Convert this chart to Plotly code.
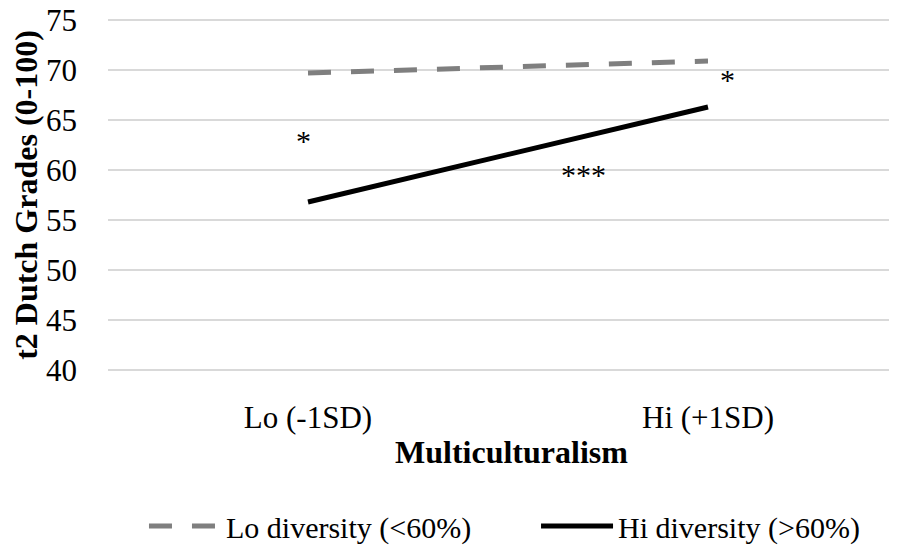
import plotly.graph_objects as go

categories = ["Lo (-1SD)", "Hi (+1SD)"]
lo_diversity = [69.7, 70.9]
hi_diversity = [56.8, 66.3]
series_names = ["Lo diversity (<60%)", "Hi diversity (>60%)"]
y_ticks = [40, 45, 50, 55, 60, 65, 70, 75]
x_title = "Multiculturalism"
y_title = "t2 Dutch Grades (0-100)"
sig_labels = ["*", "***", "*"]
sig_x = ["Lo (-1SD)", "Hi (+1SD)", "Hi (+1SD)"]
sig_y = [63.0, 59.6, 69.1]

FONT = "Liberation Serif, Times New Roman, serif"

fig = go.Figure()
fig.add_trace(go.Scatter(
    x=categories, y=lo_diversity, name=series_names[0], mode="lines",
    line=dict(color="#7f7f7f", width=5, dash="23px,20px"), legend="legend",
))
fig.add_trace(go.Scatter(
    x=categories, y=hi_diversity, name=series_names[1], mode="lines",
    line=dict(color="#000000", width=5), legend="legend2",
))

xshifts = [-5, -125, 19]
for t, xv, yv, xs in zip(sig_labels, sig_x, sig_y, xshifts):
    fig.add_annotation(x=xv, y=yv, text=t, showarrow=False, xshift=xs,
                       font=dict(family=FONT, size=30, color="black"))

# x-axis title as a paper annotation (slightly right of plot centre, as in the reference)
fig.add_annotation(x=0.5108, y=-0.226, xref="paper", yref="paper",
                   xanchor="center", yanchor="middle", showarrow=False,
                   text="<b>" + x_title + "</b>",
                   font=dict(family=FONT, size=32, color="black"))

leg_common = dict(orientation="h", yanchor="middle", xanchor="left",
                  itemwidth=72, font=dict(family=FONT, size=30, color="black"),
                  bgcolor="rgba(0,0,0,0)")
# the page body has an 8px margin, so the figure is 8px smaller than the window
fig.update_layout(
    width=889, height=541,
    margin=dict(l=100, r=0, t=10, b=177, autoexpand=False),
    plot_bgcolor="white", paper_bgcolor="white",
    font=dict(family=FONT, size=30, color="black"),
    showlegend=True,
    legend=dict(x=0.0456, y=-0.435, **leg_common),
    legend2=dict(x=0.5425, y=-0.435, **leg_common),
)
fig.update_xaxes(
    type="category", range=[-0.5, 1.4725], automargin=False,
    showgrid=False, zeroline=False, showline=False,
    tickfont=dict(family=FONT, size=31), ticklabelstandoff=24,
)
fig.update_yaxes(
    range=[39.8, 75.2], tickvals=y_ticks, automargin=False,
    showgrid=True, gridcolor="#d9d9d9", gridwidth=1.5,
    zeroline=False, showline=False, ticklabeloverflow="allow",
    tickfont=dict(family=FONT, size=31), ticklabelstandoff=30,
    title=dict(text="<b>" + y_title + "</b>", font=dict(family=FONT, size=32), standoff=10),
)

fig.write_html("out.html")
